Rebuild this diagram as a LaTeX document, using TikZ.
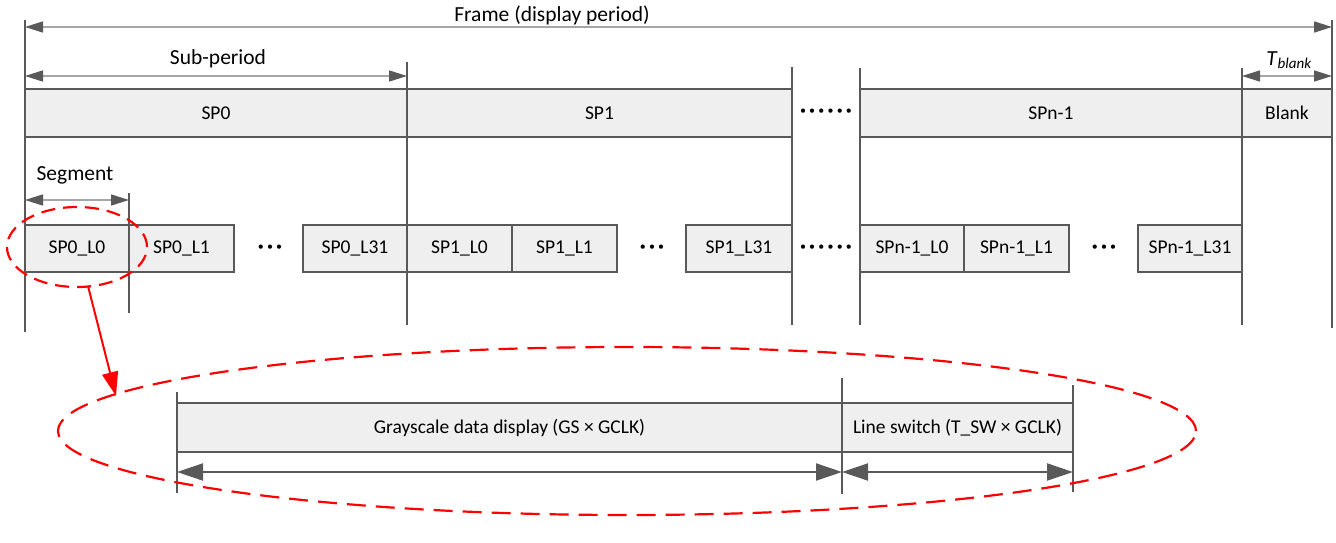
\documentclass[tikz,border=0pt]{standalone}
\usepackage{fontspec}
\setmainfont{Carlito}
\usetikzlibrary{arrows.meta,shapes.geometric}
\definecolor{dk}{HTML}{595959}
\definecolor{lt}{HTML}{A6A6A6}
\definecolor{fillg}{HTML}{EFEFEF}
\newcommand{\dg}{\hspace{3.2pt}}
\begin{document}
\begin{tikzpicture}[x=1pt,y=-1pt,
 box/.style={draw=dk, fill=fillg, line width=2.2pt, anchor=north west, inner sep=0pt, outer sep=0pt, minimum height=48pt, font=\fontsize{19.5}{22}\selectfont},
 vline/.style={draw=dk, line width=2.2pt},
 dim/.style={draw=lt, line width=1.6pt, {Triangle[length=18pt,width=11pt,color=dk]}-{Triangle[length=18pt,width=11pt,color=dk]}},
 bigdim/.style={draw=dk, line width=2pt, {Triangle[length=26pt,width=17pt]}-{Triangle[length=26pt,width=17pt]}},
 lbl/.style={font=\fontsize{21.5}{24}\selectfont, inner sep=1pt},
 dotlbl/.style={font=\fontsize{12}{14}\selectfont, inner sep=0pt},
 reddash/.style={draw=red, line width=2.2pt},
]
\useasboundingbox (0,0) rectangle (1336,543);

% top bar
\node[box, minimum width=382pt] (sp0) at (25,89) {SP0};
\node[box, minimum width=385pt] (sp1) at (407,89) {SP1};
\node[box, minimum width=382pt] (spn) at (860,89) {SPn-1};
\node[box, minimum width=90pt] (blank) at (1242,89) {Blank};
\node[dotlbl] (dA) at (826,112) {•\dg•\dg•\dg•\dg•\dg•};

% segments
\node[box, minimum width=104pt, minimum height=47pt] (s00) at (25,225) {SP0\_L0};
\node[box, minimum width=105pt, minimum height=47pt] (s01) at (129,225) {SP0\_L1};
\node[dotlbl] (dB) at (270,248) {•\dg•\dg•};
\node[box, minimum width=104pt, minimum height=47pt] (s031) at (303,225) {SP0\_L31};
\node[box, minimum width=105pt, minimum height=47pt] (s10) at (407,225) {SP1\_L0};
\node[box, minimum width=105pt, minimum height=47pt] (s11) at (512,225) {SP1\_L1};
\node[dotlbl] (dC) at (652,248) {•\dg•\dg•};
\node[box, minimum width=106pt, minimum height=47pt] (s131) at (686,225) {SP1\_L31};
\node[dotlbl] (dD) at (826,248) {•\dg•\dg•\dg•\dg•\dg•};
\node[box, minimum width=104pt, minimum height=47pt] (sn0) at (860,225) {SPn-1\_L0};
\node[box, minimum width=105pt, minimum height=47pt] (sn1) at (964,225) {SPn-1\_L1};
\node[dotlbl] (dE) at (1104,248) {•\dg•\dg•};
\node[box, minimum width=104pt, minimum height=47pt] (sn31) at (1138,225) {SPn-1\_L31};

% bottom bar
\node[box, minimum width=665pt, minimum height=49pt] (gs) at (177,403) {Grayscale data display (GS × GCLK)};
\node[box, minimum width=231pt, minimum height=49pt] (ls) at (842,403) {Line switch (T\_SW × GCLK)};

% vertical lines
\coordinate (v0t) at (25,20);   \coordinate (v0b) at (25,332);
\coordinate (v1t) at (407,62);  \coordinate (v1b) at (407,325);
\coordinate (v2t) at (792,67);  \coordinate (v2b) at (792,325);
\coordinate (v3t) at (860,68);  \coordinate (v3b) at (860,325);
\coordinate (v4t) at (1242,68); \coordinate (v4b) at (1242,325);
\coordinate (v5t) at (1332,20); \coordinate (v5b) at (1332,328);
\coordinate (v6t) at (129,193); \coordinate (v6b) at (129,313);
\coordinate (w0t) at (177,392); \coordinate (w0b) at (177,493);
\coordinate (w1t) at (842,378); \coordinate (w1b) at (842,494);
\coordinate (w2t) at (1073,385);\coordinate (w2b) at (1073,492);
\foreach \a in {v0,v1,v2,v3,v4,v5,v6,w0,w1,w2}
  \draw[vline] (\a t) -- (\a b);

% dimension arrows
\coordinate (fa) at (25,27);   \coordinate (fb) at (1332,27);
\coordinate (sa) at (25,76);   \coordinate (sb) at (407,76);
\coordinate (ta) at (1242,76); \coordinate (tb) at (1332,76);
\coordinate (ga) at (25,200);  \coordinate (gb) at (129,200);
\coordinate (ba) at (177,472); \coordinate (bb) at (842,472); \coordinate (bc) at (1073,472);
\draw[dim] (fa) -- (fb);
\draw[dim] (sa) -- (sb);
\draw[dim] (ta) -- (tb);
\draw[dim] (ga) -- (gb);
\draw[bigdim] (ba) -- (bb);
\draw[bigdim] (bb) -- (bc);

\node[lbl] (lf) at (552,15) {Frame (display period)};
\node[lbl] (lsp) at (218,59) {Sub-period};
\node[lbl] (lt) at (1289,60) {\textit{T}\textsubscript{\textit{blank}}};
\node[lbl] (lseg) at (75,175) {Segment};

% red ellipses and arrow
\draw[reddash, dash pattern=on 14pt off 8pt] (77,247) ellipse [x radius=70pt, y radius=40pt];
\draw[reddash, dash pattern=on 19pt off 10pt] (627,431) ellipse [x radius=569pt, y radius=84pt];
\coordinate (ra) at (88,286);
\coordinate (rb) at (116,396);
\draw[draw=red, line width=2pt, -{Triangle[length=24pt,width=16pt]}] (ra) -- (rb);
\end{tikzpicture}
\end{document}
